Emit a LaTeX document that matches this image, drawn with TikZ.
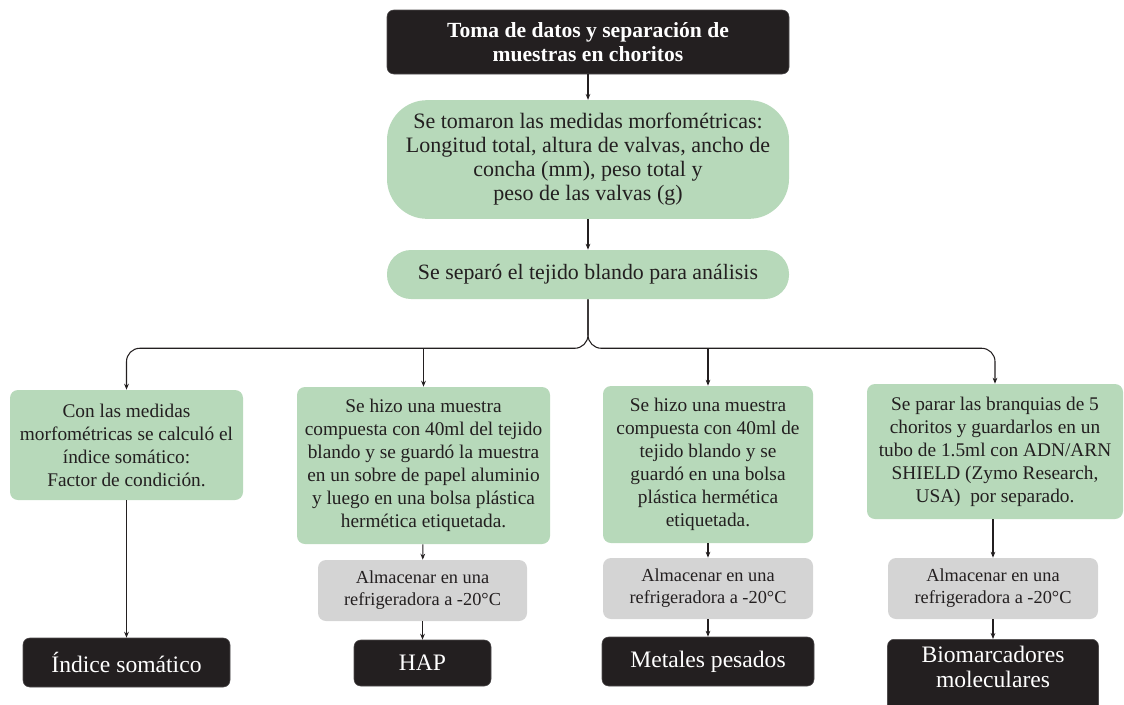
\documentclass[tikz,border=0pt]{standalone}
\usepackage{fontspec}
\setmainfont{Liberation Serif}
\usetikzlibrary{arrows.meta,positioning,calc}
\definecolor{chdark}{RGB}{35,31,32}
\definecolor{chgreen}{RGB}{183,217,186}
\definecolor{chgray}{RGB}{212,212,212}

\begin{document}
\begin{tikzpicture}[x=0.75pt, y=-0.75pt,
  dbox/.style={rectangle, rounded corners=5pt, fill=chdark, draw=chdark!80,
               text=white, align=center, inner sep=2pt,
               font=\fontsize{17.7}{18.75}\selectfont},
  gbox/.style={rectangle, rounded corners=6pt, fill=chgreen, align=center,
               inner sep=1pt, text=chdark,
               font=\fontsize{14.5}{17.25}\selectfont},
  kbox/.style={rectangle, rounded corners=6pt, fill=chgray, align=center,
               inner sep=2pt, text=chdark,
               font=\fontsize{13.75}{16.5}\selectfont},
  arr/.style={-{Stealth[length=4.5pt,width=3.5pt]}, line width=0.8pt, draw=chdark}
]
\useasboundingbox (0,0) rectangle (1124,704);

% Top nodes
\node[dbox, minimum width=301.5pt, minimum height=48pt,
      font=\fontsize{16.2}{18}\selectfont\bfseries] (toma) at (588,42)
  {Toma de datos y separación de\\muestras en choritos};

\node[gbox, minimum width=301.5pt, minimum height=89pt, rounded corners=30pt,
      font=\fontsize{16.5}{18}\selectfont] (medidas) at (588,159.5)
  {Se tomaron las medidas morfométricas:\\Longitud total, altura de valvas, ancho de\\
   concha (mm), peso total y\\peso de las valvas (g)};

\node[gbox, minimum width=301.5pt, minimum height=36.75pt, rounded corners=18pt,
      font=\fontsize{16.4}{18}\selectfont] (tejido) at (588,274.5)
  {Se separó el tejido blando para análisis};

\coordinate (hub) at ($(tejido.south)+(0,49)$);

% Branch nodes
\node[gbox, minimum width=174.75pt, minimum height=82.5pt] (indice) at (126.5,445)
  {Con las medidas\\morfométricas se calculó el\\índice somático:\\Factor de condición.};

\node[gbox, minimum width=189.75pt, minimum height=117.75pt] (hapmue) at (423.5,465.5)
  {Se hizo una muestra\\compuesta con 40ml del tejido\\blando y se guardó la muestra\\
   en un sobre de papel aluminio\\y luego en una bolsa plástica\\hermética etiquetada.};

\node[gbox, minimum width=157.5pt, minimum height=117.75pt] (metmue) at (708,464.5)
  {Se hizo una muestra\\compuesta con 40ml de\\tejido blando y se\\
   guardó en una bolsa\\plástica hermética\\etiquetada.};

\node[gbox, minimum width=192pt, minimum height=101.25pt] (branq) at (995,451.5)
  {Se parar las branquias de 5\\choritos y guardarlos en un\\tubo de 1.5ml con ADN/ARN\\
   SHIELD (Zymo Research,\\USA)\ \ por separado.};

% Storage nodes
\node[kbox, minimum width=156.75pt, minimum height=45.75pt] (frioB) at (422.5,590.5)
  {Almacenar en una\\refrigeradora a -20°C};
\node[kbox, minimum width=157.5pt, minimum height=45.75pt] (frioC) at (708,588.5)
  {Almacenar en una\\refrigeradora a -20°C};
\node[kbox, minimum width=157.5pt, minimum height=45.75pt] (frioD) at (993,588.5)
  {Almacenar en una\\refrigeradora a -20°C};

% Result nodes
\node[dbox, minimum width=155.25pt, minimum height=36.75pt] (resA) at (126.5,662.5)
  {Índice somático};
\node[dbox, minimum width=102.75pt, minimum height=34.5pt] (resB) at (422.5,663)
  {HAP};
\node[dbox, minimum width=159pt, minimum height=36.75pt] (resC) at (708,661.5)
  {Metales pesados};
\node[dbox, minimum width=158.25pt, minimum height=60.75pt, anchor=north] (resD) at (993,639)
  {\begin{tabular}{@{}c@{}}Biomarcadores\\moleculares\\[14pt]\end{tabular}};

% Arrows
\draw[arr] (toma) -- (medidas);
\draw[arr] (medidas) -- (tejido);
\draw[arr, rounded corners=10pt] (tejido.south) -- (hub) -| (indice.north);
\draw[arr, rounded corners=10pt] (tejido.south) -- (hub) -| (branq.north);
\draw[arr] (hub -| hapmue.north) -- (hapmue.north);
\draw[arr] (hub -| metmue.north) -- (metmue.north);

\draw[arr] (indice) -- (resA);
\draw[arr] (hapmue) -- (frioB);
\draw[arr] (frioB) -- (resB);
\draw[arr] (metmue) -- (frioC);
\draw[arr] (frioC) -- (resC);
\draw[arr] (branq.south -| frioD.north) -- (frioD);
\draw[arr] (frioD) -- (resD);
\end{tikzpicture}
\end{document}
